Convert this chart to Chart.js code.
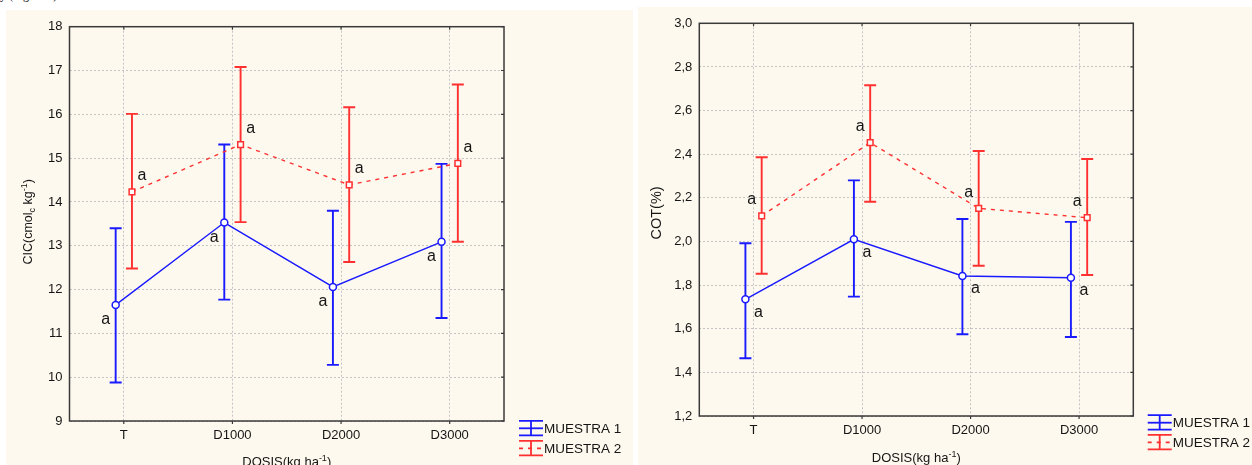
<!DOCTYPE html>
<html><head><meta charset="utf-8">
<script src="https://cdn.jsdelivr.net/npm/chart.js@4.4.0/dist/chart.umd.min.js"></script>
<style>
html,body{margin:0;padding:0;background:#fff;width:1252px;height:465px;overflow:hidden;position:relative;}
.panel{position:absolute;background:#fdf9ee;overflow:hidden;}
#p1{left:6px;top:10px;width:627px;height:455px;}
#p2{left:638px;top:7px;width:614px;height:458px;}
#topText{position:absolute;left:0;top:-12px;font:12px "Liberation Serif",serif;color:#111;white-space:nowrap;}
canvas{display:block;}
</style></head>
<body>
<div id="topText">y (Figura 1)</div>
<div class="panel" id="p1"><canvas id="c1" width="627" height="455"></canvas></div>
<div class="panel" id="p2"><canvas id="c2" width="614" height="458"></canvas></div>
<script>
// ---- data ----
const categories = ['T', 'D1000', 'D2000', 'D3000'];
const seriesNames = ['MUESTRA 1', 'MUESTRA 2'];

const cicM1Mean = [11.65, 13.53, 12.06, 13.09];
const cicM1Low  = [9.88, 11.77, 10.28, 11.35];
const cicM1High = [13.40, 15.31, 13.80, 14.87];
const cicM2Mean = [14.23, 15.31, 14.39, 14.88];
const cicM2Low  = [12.48, 13.54, 12.63, 13.09];
const cicM2High = [16.01, 17.08, 16.16, 16.68];
const cicLetters1 = ['a', 'a', 'a', 'a'];
const cicLetters2 = ['a', 'a', 'a', 'a'];
const cicTicks = [9, 10, 11, 12, 13, 14, 15, 16, 17, 18];

const cotM1Mean = [1.735, 2.010, 1.842, 1.834];
const cotM1Low  = [1.465, 1.747, 1.575, 1.562];
const cotM1High = [1.992, 2.280, 2.103, 2.090];
const cotM2Mean = [2.117, 2.453, 2.152, 2.109];
const cotM2Low  = [1.852, 2.182, 1.889, 1.846];
const cotM2High = [2.386, 2.716, 2.415, 2.378];
const cotLetters1 = ['a', 'a', 'a', 'a'];
const cotLetters2 = ['a', 'a', 'a', 'a'];
const cotTicks = [1.2, 1.4, 1.6, 1.8, 2.0, 2.2, 2.4, 2.6, 2.8, 3.0];

// ---- style ----
const FAMILY = '"Liberation Sans", Arial, sans-serif';
const BLUE = '#1a1aff';
const RED = '#ff3030';
const TXT = '#151515';

function drawRich(ctx, parts, x, y, rotate) {
  ctx.save();
  ctx.translate(x, y);
  if (rotate) ctx.rotate(-Math.PI / 2);
  let total = 0;
  parts.forEach(p => { ctx.font = p.size + 'px ' + FAMILY; p.w = ctx.measureText(p.t).width; total += p.w; });
  let cx = -total / 2;
  ctx.textBaseline = 'alphabetic'; ctx.textAlign = 'left'; ctx.fillStyle = TXT;
  parts.forEach(p => { ctx.font = p.size + 'px ' + FAMILY; ctx.fillText(p.t, cx, p.dy || 0); cx += p.w; });
  ctx.restore();
}

const decorPlugin = {
  id: 'decor',
  beforeDatasetsDraw(chart) {
    const ctx = chart.ctx, a = chart.chartArea, xs = chart.scales.x, ys = chart.scales.y;
    ctx.save();
    ctx.strokeStyle = '#3a3a3a'; ctx.lineWidth = 1.5;
    ctx.strokeRect(a.left, a.top, a.right - a.left, a.bottom - a.top);
    ctx.lineWidth = 1.2;
    ctx.beginPath();
    ys.ticks.forEach(t => { const y = ys.getPixelForValue(t.value); ctx.moveTo(a.right, y); ctx.lineTo(a.right - 3, y); });
    xs.ticks.forEach(t => { const x = xs.getPixelForValue(t.value); ctx.moveTo(x, a.top); ctx.lineTo(x, a.top + 3); ctx.moveTo(x, a.bottom); ctx.lineTo(x, a.bottom + 3); });
    ctx.stroke();
    chart.data.datasets.forEach(ds => {
      ctx.strokeStyle = ds.borderColor; ctx.lineWidth = 1.9; ctx.setLineDash([]);
      ds.data.forEach((p, i) => {
        const x = xs.getPixelForValue(p.x);
        const yl = ys.getPixelForValue(ds.low[i]);
        const yh = ys.getPixelForValue(ds.high[i]);
        ctx.beginPath();
        ctx.moveTo(x, yl); ctx.lineTo(x, yh);
        ctx.moveTo(x - 6, yl); ctx.lineTo(x + 6, yl);
        ctx.moveTo(x - 6, yh); ctx.lineTo(x + 6, yh);
        ctx.stroke();
      });
    });
    ctx.restore();
  },
  afterDatasetsDraw(chart) {
    const ctx = chart.ctx, xs = chart.scales.x, ys = chart.scales.y;
    ctx.save();
    ctx.font = '16px ' + FAMILY; ctx.fillStyle = TXT; ctx.textAlign = 'center'; ctx.textBaseline = 'middle';
    chart.data.datasets.forEach(ds => {
      ds.data.forEach((p, i) => {
        ctx.fillText(ds.letters[i], xs.getPixelForValue(p.x) + ds.labelDx, ys.getPixelForValue(p.y) + ds.labelDy);
      });
    });
    ctx.restore();
  },
  afterDraw(chart) {
    const ctx = chart.ctx, a = chart.chartArea, o = chart.options.plugins.decor;
    const midX = (a.left + a.right) / 2, midY = (a.top + a.bottom) / 2;
    drawRich(ctx, o.xTitle, midX, a.bottom + o.xTitleDy, false);
    drawRich(ctx, o.yTitle, a.left + o.yTitleDx, midY + o.yTitleDy, true);
    ctx.save();
    chart.data.datasets.forEach((ds, k) => {
      const x0 = a.right + o.legDx, yc = a.bottom + o.legDy + k * o.legGap, w = 24;
      ctx.strokeStyle = ds.borderColor; ctx.lineWidth = 1.8;
      ctx.setLineDash([]);
      ctx.beginPath();
      ctx.moveTo(x0, yc - 7.5); ctx.lineTo(x0 + w, yc - 7.5);
      ctx.moveTo(x0, yc + 7); ctx.lineTo(x0 + w, yc + 7);
      ctx.moveTo(x0 + w / 2, yc - 7.5); ctx.lineTo(x0 + w / 2, yc + 7);
      ctx.stroke();
      ctx.setLineDash(ds.borderDash || []);
      ctx.beginPath(); ctx.moveTo(x0, yc); ctx.lineTo(x0 + w, yc); ctx.stroke();
      ctx.setLineDash([]);
      ctx.fillStyle = TXT; ctx.font = '13.5px ' + FAMILY; ctx.textAlign = 'left'; ctx.textBaseline = 'middle';
      ctx.fillText(ds.label, x0 + w + 1, yc + 0.5);
    });
    ctx.restore();
  }
};

function makeChart(id, c) {
  const mk = (mean, off) => mean.map((v, i) => ({ x: i + off, y: v }));
  return new Chart(document.getElementById(id), {
    type: 'line',
    data: {
      datasets: [
        { label: seriesNames[0], data: mk(c.m1, -0.075), low: c.m1Low, high: c.m1High, letters: c.l1,
          labelDx: c.l1dx, labelDy: c.l1dy,
          borderColor: BLUE, borderWidth: 1.4, tension: 0, pointStyle: 'circle', pointRadius: 3.5,
          pointBackgroundColor: '#fff', pointBorderColor: BLUE, pointBorderWidth: 1.5 },
        { label: seriesNames[1], data: mk(c.m2, 0.075), low: c.m2Low, high: c.m2High, letters: c.l2,
          labelDx: c.l2dx, labelDy: c.l2dy,
          borderColor: RED, borderWidth: 1.4, borderDash: [4, 5], tension: 0, pointStyle: 'rect', pointRadius: 4,
          pointBackgroundColor: '#fff', pointBorderColor: RED, pointBorderWidth: 1.5 }
      ]
    },
    options: {
      responsive: false, animation: false, devicePixelRatio: 1,
      layout: { padding: { top: c.padTop, right: c.padRight, left: 0, bottom: 0 } },
      plugins: {
        legend: { display: false }, tooltip: { enabled: false },
        decor: { xTitle: c.xTitle, yTitle: c.yTitle, xTitleDy: c.xTitleDy, yTitleDx: c.yTitleDx, yTitleDy: c.yTitleDy,
                 legDx: c.legDx, legDy: c.legDy, legGap: c.legGap }
      },
      scales: {
        x: {
          type: 'linear', min: -0.5, max: 3.5,
          afterBuildTicks: s => { s.ticks = categories.map((_, i) => ({ value: i })); },
          afterFit: s => { s.height = c.xh; },
          ticks: { callback: v => categories[v], font: { size: 13, family: FAMILY }, color: TXT, padding: 7, maxRotation: 0, autoSkip: false },
          grid: { color: '#c4c4c4', lineWidth: 1, drawTicks: false },
          border: { display: false, dash: [2, 2] }
        },
        y: {
          type: 'linear', min: c.ticks[0], max: c.ticks[c.ticks.length - 1],
          afterBuildTicks: s => { s.ticks = c.ticks.map(v => ({ value: v })); },
          afterFit: s => { s.width = c.yw; },
          ticks: { callback: c.fmt, font: { size: 13, family: FAMILY }, color: TXT, padding: 7 },
          grid: { color: '#c4c4c4', lineWidth: 1, drawTicks: false },
          border: { display: false, dash: [2, 2] }
        }
      }
    },
    plugins: [decorPlugin]
  });
}

const dosisTitle = [ { t: 'DOSIS(kg ha', size: 13 }, { t: '-1', size: 9, dy: -5 }, { t: ')', size: 13 } ];

makeChart('c1', {
  m1: cicM1Mean, m1Low: cicM1Low, m1High: cicM1High, l1: cicLetters1, l1dx: -10, l1dy: 15,
  m2: cicM2Mean, m2Low: cicM2Low, m2High: cicM2High, l2: cicLetters2, l2dx: 10, l2dy: -16,
  ticks: cicTicks, fmt: v => String(v),
  padTop: 16.7, padRight: 129, yw: 63.5, xh: 44,
  xTitle: dosisTitle, xTitleDy: 44.5,
  yTitle: [ { t: 'CIC(cmol', size: 12.5 }, { t: 'c', size: 9, dy: 3 }, { t: ' kg', size: 12.5 }, { t: '-1', size: 9, dy: -5 }, { t: ')', size: 12.5 } ],
  yTitleDx: -38, yTitleDy: -2,
  legDx: 15, legDy: 7.3, legGap: 20
});

makeChart('c2', {
  m1: cotM1Mean, m1Low: cotM1Low, m1High: cotM1High, l1: cotLetters1, l1dx: 13, l1dy: 13,
  m2: cotM2Mean, m2Low: cotM2Low, m2High: cotM2High, l2: cotLetters2, l2dx: -10, l2dy: -16,
  ticks: cotTicks, fmt: v => v.toFixed(1).replace('.', ','),
  padTop: 16.3, padRight: 118.7, yw: 61.3, xh: 49,
  xTitle: dosisTitle, xTitleDy: 45.5,
  yTitle: [ { t: 'COT(%)', size: 14.5 } ],
  yTitleDx: -38.3, yTitleDy: -6.7,
  legDx: 14.4, legDy: 6.7, legGap: 19.6
});
</script>
</body></html>
